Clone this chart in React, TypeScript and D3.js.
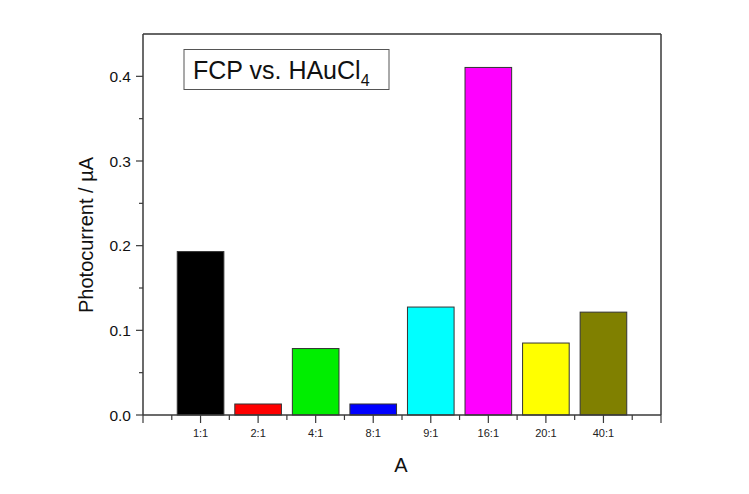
import React from "react";
import * as d3 from "d3";

// Molar ratio categories and measured photocurrent (µA)
const categories = ["1:1", "2:1", "4:1", "8:1", "9:1", "16:1", "20:1", "40:1"];
const photocurrent = [0.193, 0.013, 0.0785, 0.013, 0.1275, 0.4105, 0.085, 0.1215];
const barColors = ["#000000", "#ff0000", "#00ee00", "#0000ff", "#00ffff", "#ff00ff", "#ffff00", "#808000"];
const yTicks = [0, 0.1, 0.2, 0.3, 0.4];
const yMinorTicks = [0.05, 0.15, 0.25, 0.35];

const W = 749;
const H = 494;
const M = { left: 143, right: 661, top: 34, bottom: 415 };

export default function App() {
  const x = d3.scaleLinear().domain([0, 9]).range([M.left, M.right]);
  const y = d3.scaleLinear().domain([0, 0.45]).range([M.bottom, M.top]);
  const step = x(1) - x(0);
  const barW = step * 0.81;
  const axisColor = "#3a3a3a";
  const font = "Arial, 'Liberation Sans', sans-serif";

  const majorX = d3.range(0, 10);
  const minorX = d3.range(0.5, 9, 1);

  return (
    <svg
      width={W}
      height={H}
      style={{ position: "absolute", left: 0, top: 0, background: "#fff" }}
      fontFamily={font}
    >
      {/* bars */}
      {photocurrent.map((v, i) => (
        <rect
          key={categories[i]}
          x={x(i + 1) - barW / 2}
          y={y(v)}
          width={barW}
          height={y(0) - y(v)}
          fill={barColors[i]}
          stroke="#333"
          strokeWidth={1}
        />
      ))}

      {/* frame */}
      <line x1={M.left} x2={M.right} y1={M.top} y2={M.top} stroke="#666" strokeWidth={2} />
      <line x1={M.right} x2={M.right} y1={M.top} y2={M.bottom} stroke={axisColor} strokeWidth={1.5} />
      <line x1={M.left} x2={M.left} y1={M.top} y2={M.bottom} stroke={axisColor} strokeWidth={1.5} />
      <line x1={M.left} x2={M.right} y1={M.bottom} y2={M.bottom} stroke={axisColor} strokeWidth={1.5} />

      {/* y axis ticks */}
      {yTicks.map((t) => (
        <g key={t}>
          <line x1={M.left - 7} x2={M.left} y1={y(t)} y2={y(t)} stroke={axisColor} strokeWidth={1.2} />
          <text x={M.left - 12} y={y(t)} dy="0.36em" textAnchor="end" fontSize={15.5} fill="#111">
            {d3.format(".1f")(t)}
          </text>
        </g>
      ))}
      {yMinorTicks.map((t) => (
        <line key={t} x1={M.left - 4} x2={M.left} y1={y(t)} y2={y(t)} stroke={axisColor} strokeWidth={1.2} />
      ))}

      {/* x axis ticks */}
      {majorX.map((t) => (
        <line key={t} x1={x(t)} x2={x(t)} y1={M.bottom} y2={M.bottom + 8} stroke={axisColor} strokeWidth={1.2} />
      ))}
      {minorX.map((t) => (
        <line key={t} x1={x(t)} x2={x(t)} y1={M.bottom} y2={M.bottom + 5} stroke={axisColor} strokeWidth={1.2} />
      ))}
      {categories.map((c, i) => (
        <text key={c} x={x(i + 1)} y={437} textAnchor="middle" fontSize={11} fill="#222">
          {c}
        </text>
      ))}

      {/* axis titles */}
      <text x={401} y={472} textAnchor="middle" fontSize={20} fill="#111">
        A
      </text>
      <text
        transform="translate(93, 235) rotate(-90)"
        textAnchor="middle"
        fontSize={20}
        fill="#111"
      >
        Photocurrent / µA
      </text>

      {/* label box */}
      <rect x={184} y={49.5} width={205} height={40} fill="#fff" stroke="#555" strokeWidth={1} />
      <text x={193} y={79} fontSize={25} fill="#111">
        FCP vs. HAuCl
        <tspan fontSize={16} dy={7}>
          4
        </tspan>
      </text>
    </svg>
  );
}
